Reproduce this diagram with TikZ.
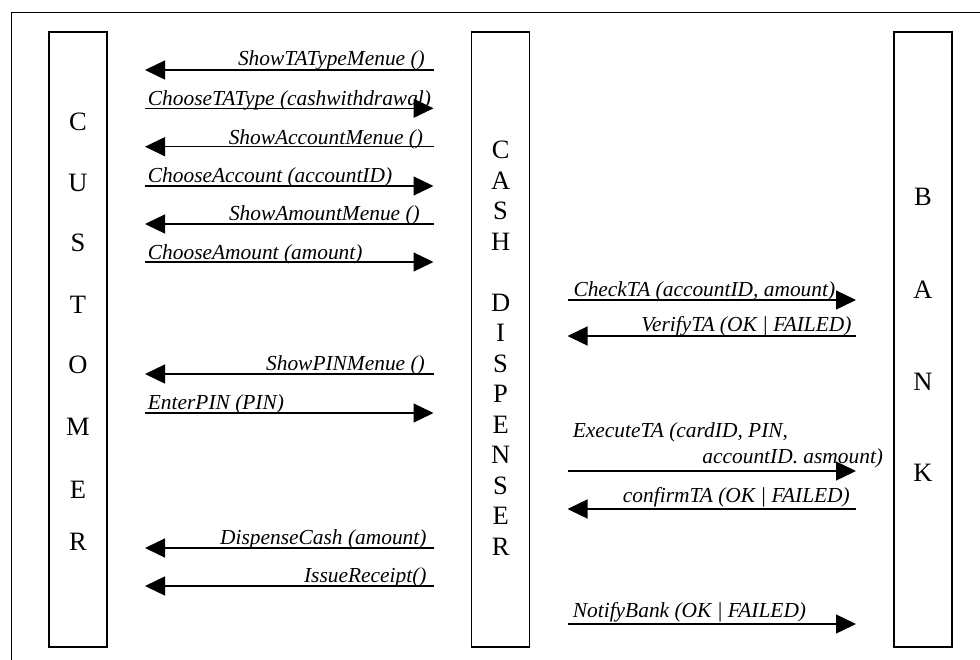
\documentclass[tikz,border=0pt]{standalone}
\usepackage{fontspec}
\setmainfont{Liberation Serif}
\usetikzlibrary{arrows.meta}
\begin{document}
\begin{tikzpicture}[x=1pt,y=-1pt,
  lifebox/.style={draw, line width=1.5pt, minimum width=58pt, minimum height=615pt, inner sep=0pt},
  letter/.style={font=\fontsize{26.5}{30}\selectfont, inner sep=0pt},
  lbl/.style={font=\fontsize{21.4}{24}\selectfont\itshape, inner sep=0pt},
  msg/.style={line width=1.3pt, -{Triangle[length=20pt,width=19pt]}}]
\useasboundingbox (0,0) rectangle (980,659);
\begin{scope}
  \clip (0,0) rectangle (980,659);
  \draw[line width=1.4pt] (11.3,700) -- (11.3,12.7) -- (1000,12.7);
\end{scope}

% lifeline boxes
\node[lifebox] (cust) at (78,339.5) {};
\node[lifebox] (disp) at (500.6,339.5) {};
\node[lifebox] (bank) at (923,339.5) {};

% vertical letters
\foreach \ch/\y [count=\i] in {C/122,U/183,S/243,T/305,O/365,M/427,E/490,R/542}
  \node[letter] (c\i) at (78,\y) {\ch};
\foreach \ch/\y [count=\i] in {C/150,A/180.5,S/211,H/241.5,D/302.5,I/333,S/363.5,P/394,E/424.5,N/455,S/485.5,E/516,R/546.5}
  \node[letter] (d\i) at (500.6,\y) {\ch};
\foreach \ch/\y [count=\i] in {B/197,A/290,N/382,K/473}
  \node[letter] (b\i) at (923,\y) {\ch};

% message end points
\foreach \i/\y in {1/70,2/108.3,3/146.7,4/186,5/224,6/262,7/374,8/413,9/548,10/586}{
  \coordinate (p\i) at (145,\y);
  \coordinate (q\i) at (433.5,\y);
}
\foreach \i/\y in {11/300,12/336,13/471,14/509,15/624}{
  \coordinate (p\i) at (567.5,\y);
  \coordinate (q\i) at (856,\y);
}

% customer <-> dispenser
\draw[msg] (q1) -- (p1);
\draw[msg] (p2) -- (q2);
\draw[msg] (q3) -- (p3);
\draw[msg] (p4) -- (q4);
\draw[msg] (q5) -- (p5);
\draw[msg] (p6) -- (q6);
\draw[msg] (q7) -- (p7);
\draw[msg] (p8) -- (q8);
\draw[msg] (q9) -- (p9);
\draw[msg] (q10) -- (p10);
% dispenser <-> bank
\draw[msg] (p11) -- (q11);
\draw[msg] (q12) -- (p12);
\draw[msg] (p13) -- (q13);
\draw[msg] (q14) -- (p14);
\draw[msg] (p15) -- (q15);

% labels
\node[lbl, anchor=base east] (t1) at (425,65) {ShowTATypeMenue ()};
\node[lbl, anchor=base west] (t2) at (147.7,105) {ChooseTAType (cashwithdrawal)};
\node[lbl, anchor=base east] (t3) at (423.3,144) {ShowAccountMenue ()};
\node[lbl, anchor=base west] (t4) at (147.7,182.7) {ChooseAccount (accountID)};
\node[lbl, anchor=base east] (t5) at (420,220.7) {ShowAmountMenue ()};
\node[lbl, anchor=base west] (t6) at (147.7,259) {ChooseAmount (amount)};
\node[lbl, anchor=base east] (t7) at (425,370.7) {ShowPINMenue ()};
\node[lbl, anchor=base west] (t8) at (147.7,409.3) {EnterPIN (PIN)};
\node[lbl, anchor=base east] (t9) at (426.7,544) {DispenseCash (amount)};
\node[lbl, anchor=base east] (t10) at (426.7,582.3) {IssueReceipt()};
\node[lbl, anchor=base west] (t11) at (573.3,296.7) {CheckTA (accountID, amount)};
\node[lbl, anchor=base east] (t12) at (851.7,331.7) {VerifyTA (OK | FAILED)};
\node[lbl, anchor=base west] (t13a) at (572.7,437) {ExecuteTA (cardID, PIN,};
\node[lbl, anchor=base east] (t13b) at (883.3,463) {accountID. asmount)};
\node[lbl, anchor=base east] (t14) at (850,502) {confirmTA (OK | FAILED)};
\node[lbl, anchor=base west] (t15) at (572.7,617) {NotifyBank (OK | FAILED)};
\end{tikzpicture}
\end{document}
